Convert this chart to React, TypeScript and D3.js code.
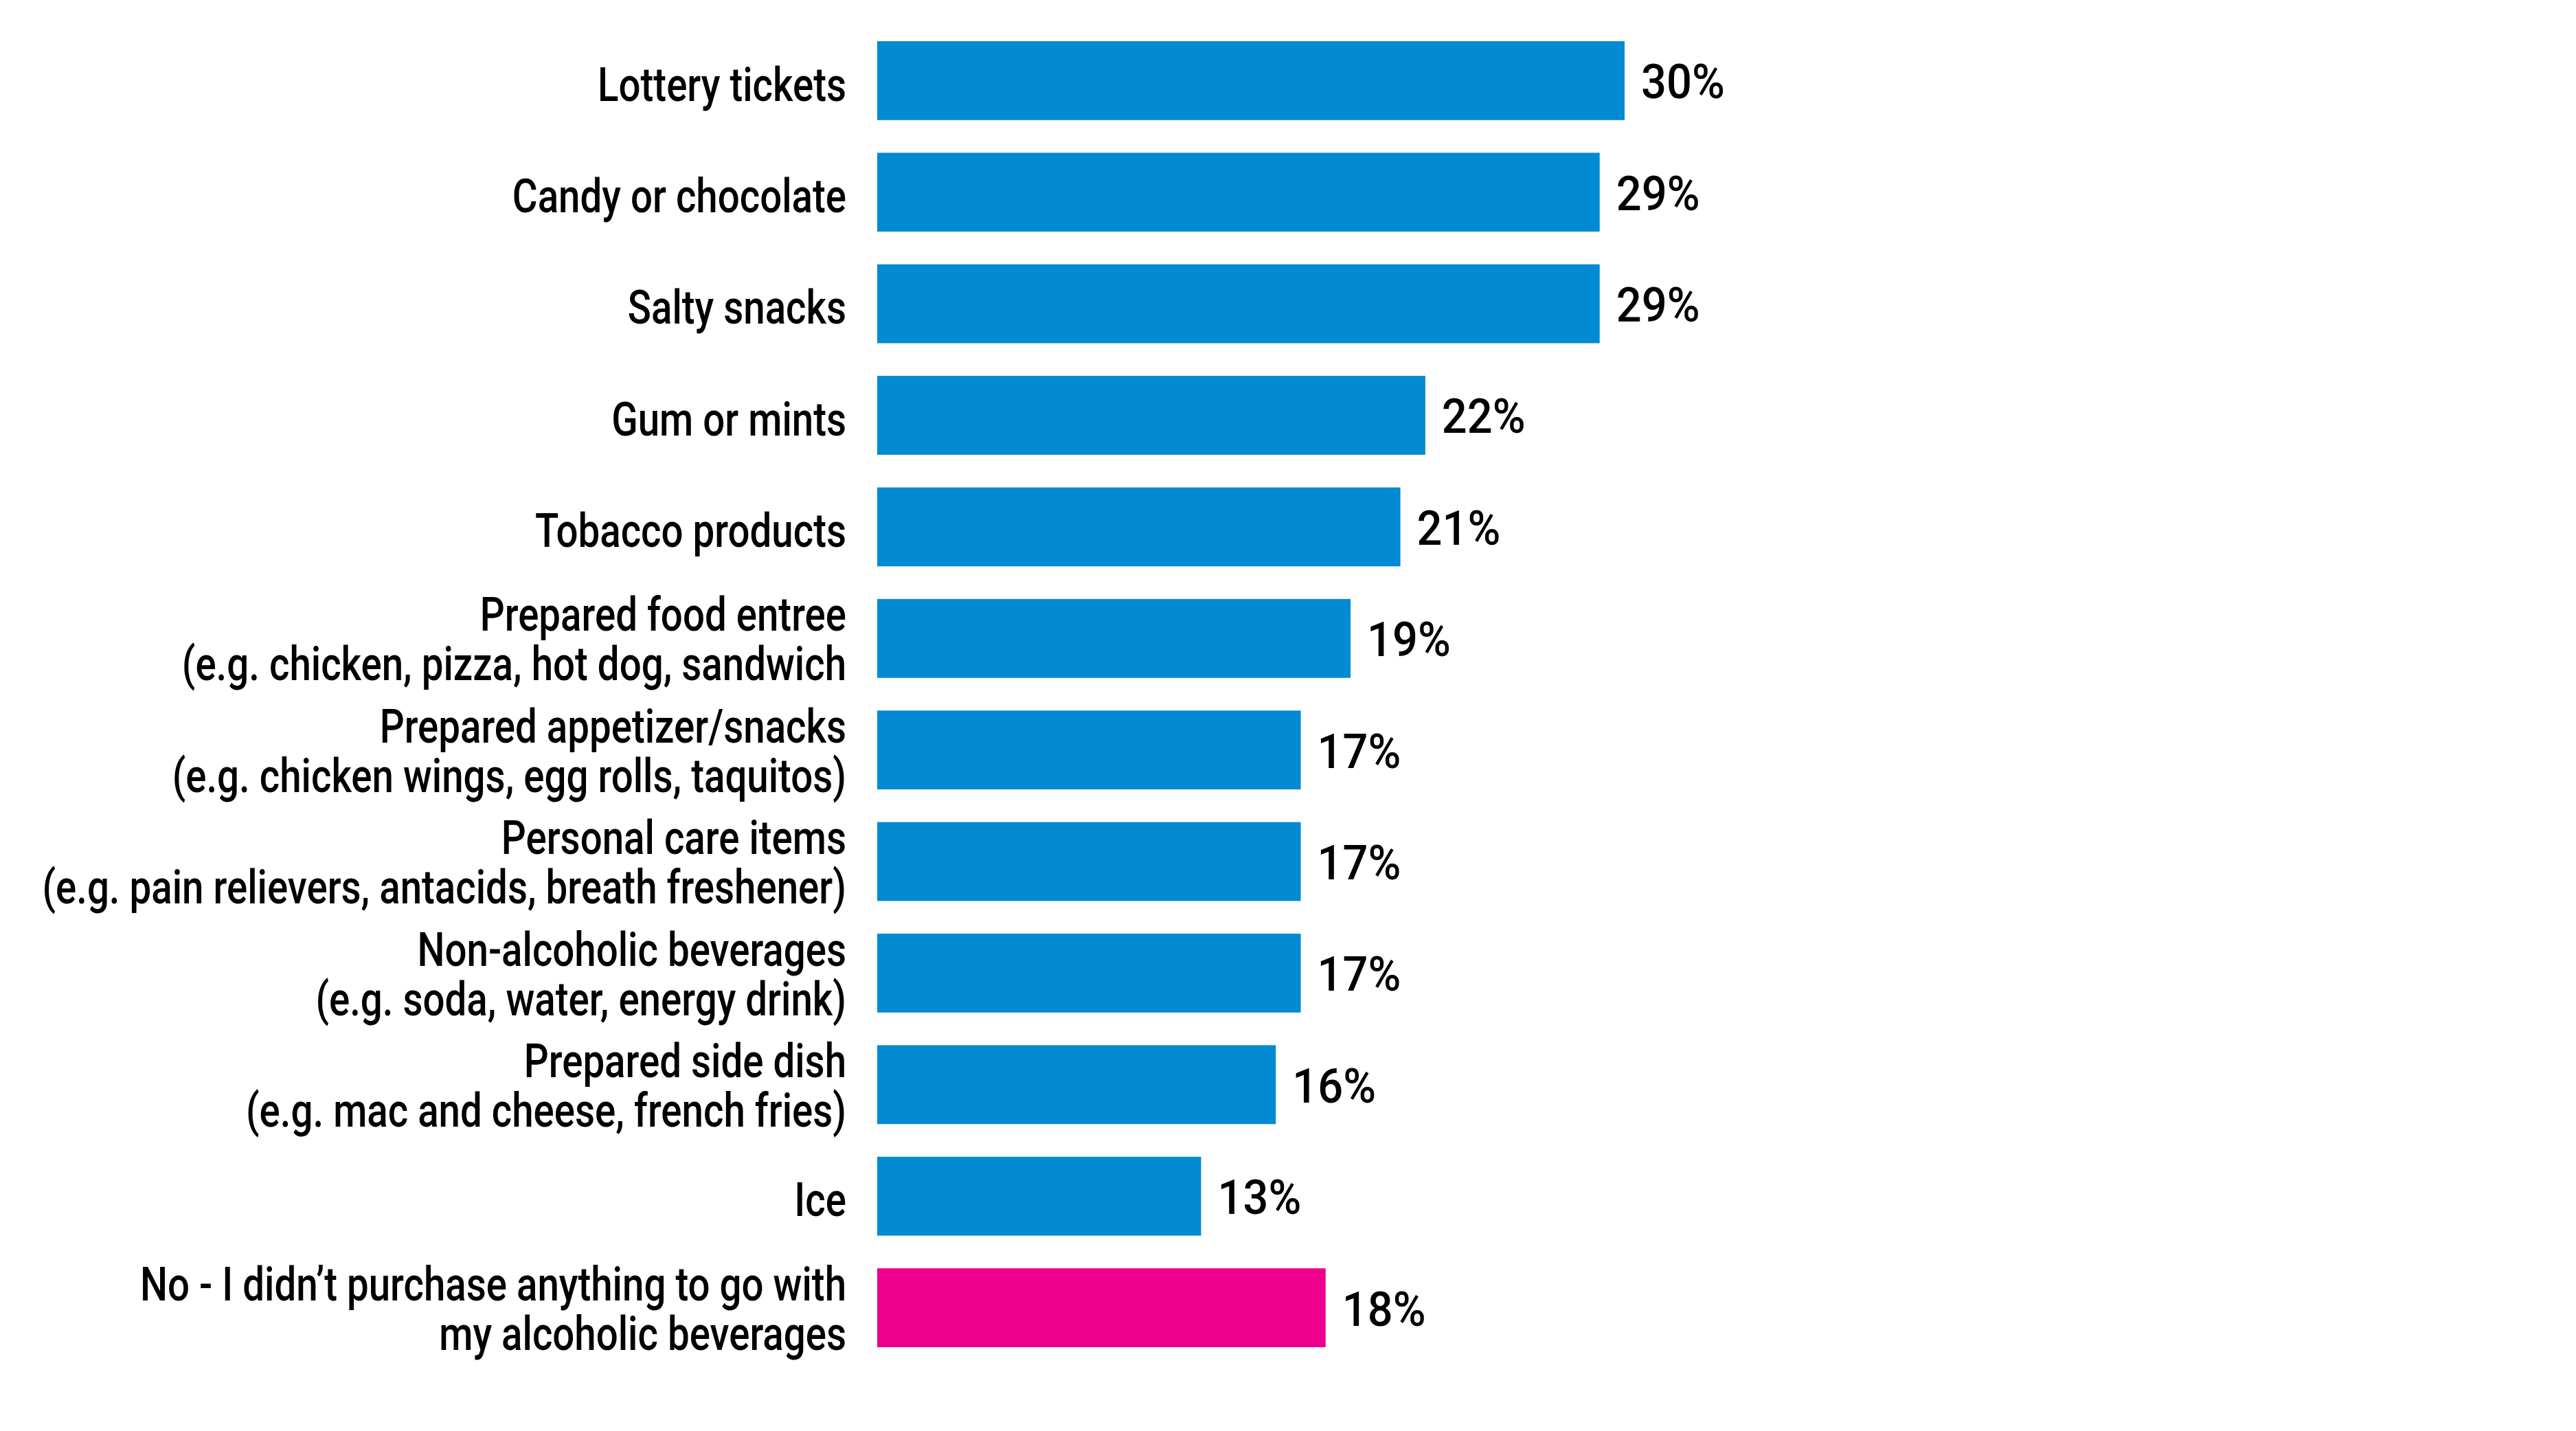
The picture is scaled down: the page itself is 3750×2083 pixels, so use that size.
import React, { useEffect, useRef } from 'react'
import * as d3 from 'd3'

// categories (each entry is the lines of the label)
const categories: string[][] = [
  ['Lottery tickets'],
  ['Candy or chocolate'],
  ['Salty snacks'],
  ['Gum or mints'],
  ['Tobacco products'],
  ['Prepared food entree', '(e.g. chicken, pizza, hot dog, sandwich'],
  ['Prepared appetizer/snacks', '(e.g. chicken wings, egg rolls, taquitos)'],
  ['Personal care items', '(e.g. pain relievers, antacids, breath freshener)'],
  ['Non-alcoholic beverages', '(e.g. soda, water, energy drink)'],
  ['Prepared side dish', '(e.g. mac and cheese, french fries)'],
  ['Ice'],
  ['No - I didn\u2019t purchase anything to go with', 'my alcoholic beverages']
]
const values: number[] = [30, 29, 29, 22, 21, 19, 17, 17, 17, 16, 13, 18]
const highlight: boolean[] = [false, false, false, false, false, false, false, false, false, false, false, true]

const W = 3750
const H = 2083
const BLUE = '#028AD2'
const PINK = '#EC008C'

const App = () => {
  const ref = useRef<SVGSVGElement>(null)

  useEffect(() => {
    const svg = d3.select(ref.current)
    svg.selectAll('*').remove()

    const keys = categories.map((c, i) => String(i))
    const y = d3.scaleBand()
      .domain(keys)
      .range([60, 1961])
      .paddingInner(0.293)
      .paddingOuter(0)
    const x = d3.scaleLinear()
      .domain([0, 30])
      .range([1277, 2365])

    const rows = svg.append('g')
      .selectAll('g')
      .data(values)
      .enter()
      .append('g')

    rows.append('rect')
      .attr('x', x(0))
      .attr('y', (d, i) => y(keys[i]))
      .attr('width', d => x(d) - x(0))
      .attr('height', y.bandwidth())
      .attr('fill', (d, i) => highlight[i] ? PINK : BLUE)

    // value labels
    rows.append('g')
      .attr('transform', (d, i) => 'translate(' + (x(d) + 24) + ',' + (y(keys[i]) + y.bandwidth() / 2) + ') scale(0.93,1)')
      .append('text')
      .attr('dy', '0.37em')
      .attr('font-family', 'Roboto, sans-serif')
      .attr('font-weight', 500)
      .attr('font-size', 70)
      .attr('fill', '#000')
      .text(d => d + '%')

    // category labels, right aligned against the bars
    const lineGap = 72
    const lab = rows.append('g')
      .attr('transform', (d, i) => 'translate(1232,' + (y(keys[i]) + y.bandwidth() / 2) + ') scale(0.83,1)')
      .append('text')
      .attr('text-anchor', 'end')
      .attr('font-family', 'Roboto, sans-serif')
      .attr('font-weight', 500)
      .attr('font-size', 68)
      .attr('fill', '#000')

    lab.selectAll('tspan')
      .data((d, i) => categories[i].map((t, j) => ({ t, j, n: categories[i].length })))
      .enter()
      .append('tspan')
      .attr('x', 0)
      .attr('y', l => (l.j - (l.n - 1) / 2) * lineGap + (l.n === 1 ? 4 : 0))
      .attr('dy', '0.37em')
      .text(l => l.t)
  }, [])

  return (
    <svg ref={ref} width={W} height={H}
      style={{ position: 'absolute', left: 0, top: 0, background: '#fff' }} />
  )
}

export default App
